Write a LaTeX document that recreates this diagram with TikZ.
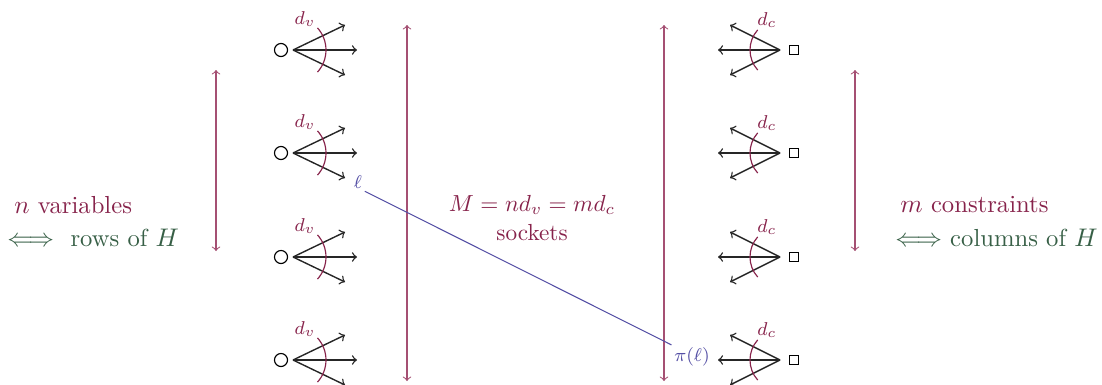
\documentclass[tikz,border=0pt]{standalone}
\usepackage{amsmath}
\usetikzlibrary{calc}
\definecolor{maroon}{RGB}{135,35,75}
\definecolor{vline}{RGB}{165,80,115}
\definecolor{dgreen}{RGB}{55,95,70}
\definecolor{lblue}{RGB}{85,80,165}
\begin{document}
\begin{tikzpicture}[x=0.43pt,y=-0.43pt,
  fan/.style={->,>=to,line width=0.6pt,black!85},
  deg/.style={maroon,line width=0.5pt},
  span/.style={<->,>=to,vline,line width=0.45pt},
  varnode/.style={circle,draw,line width=0.5pt,minimum size=5.6pt,inner sep=0pt},
  chknode/.style={rectangle,draw,line width=0.5pt,minimum size=4.2pt,inner sep=0pt},
  deglab/.style={maroon,font=\footnotesize,inner sep=0pt},
  txt/.style={inner sep=0pt,font=\normalsize},
  sidetxt/.style={inner sep=0pt,font=\fontsize{10.6pt}{13pt}\selectfont}]
\useasboundingbox (0,0) rectangle (1102,384);
\foreach \i/\y in {1/50,2/153,3/257,4/360}{
  % variable side
  \node[varnode] (v\i) at (281,\y) {};
  \coordinate (vo\i) at (293,\y);
  \coordinate (va\i) at (345,\y-25);
  \coordinate (vb\i) at (357,\y);
  \coordinate (vc\i) at (345,\y+25);
  \draw[fan] (vo\i) -- (va\i);
  \draw[fan] (vo\i) -- (vb\i);
  \draw[fan] (vo\i) -- (vc\i);
  \draw[deg] ($(vo\i)+(24.5,-22.1)$) arc[start angle=42,end angle=-42,radius=14.2pt];
  \node[deglab] (dv\i) at (305,\y-31) {$d_v$};
  % check side
  \node[chknode] (c\i) at (794,\y) {};
  \coordinate (co\i) at (780,\y);
  \coordinate (ca\i) at (730,\y-25);
  \coordinate (cb\i) at (718,\y);
  \coordinate (cc\i) at (730,\y+25);
  \draw[fan] (co\i) -- (ca\i);
  \draw[fan] (co\i) -- (cb\i);
  \draw[fan] (co\i) -- (cc\i);
  \draw[deg] ($(co\i)+(-22.3,-20.1)$) arc[start angle=138,end angle=222,radius=12.9pt];
  \node[deglab] (dc\i) at (767,\y-30) {$d_c$};
}
% vertical extent arrows
\coordinate (s1a) at (216,70);  \coordinate (s1b) at (216,251);
\coordinate (s2a) at (407,25);  \coordinate (s2b) at (407,381);
\coordinate (s3a) at (664,25);  \coordinate (s3b) at (664,381);
\coordinate (s4a) at (855,70);  \coordinate (s4b) at (855,251);
\draw[span] (s1a) -- (s1b);
\draw[span] (s2a) -- (s2b);
\draw[span] (s3a) -- (s3b);
\draw[span] (s4a) -- (s4b);
% texts
\node[sidetxt,anchor=west,maroon] (nv) at (14,205) {$n$ variables};
\node[sidetxt,anchor=west,dgreen] (rows) at (7,238) {$\Longleftrightarrow$\ \ rows of $H$};
\node[txt,maroon] (M) at (532,205) {$M=nd_v=md_c$};
\node[txt,maroon] (sock) at (532,233) {sockets};
\node[sidetxt,anchor=west,maroon] (mc) at (900,205) {$m$ constraints};
\node[sidetxt,anchor=east,dgreen] (cols) at (1098,238) {$\Longleftrightarrow$\ columns of $H$};
% permutation edge
\node[lblue,font=\footnotesize,inner sep=1pt] (ell) at (358,182) {$\ell$};
\node[lblue,font=\footnotesize,inner sep=1pt] (pil) at (692,357) {$\pi(\ell)$};
\draw[lblue,line width=0.45pt] (ell.south east) -- (pil.north west);
\end{tikzpicture}
\end{document}
